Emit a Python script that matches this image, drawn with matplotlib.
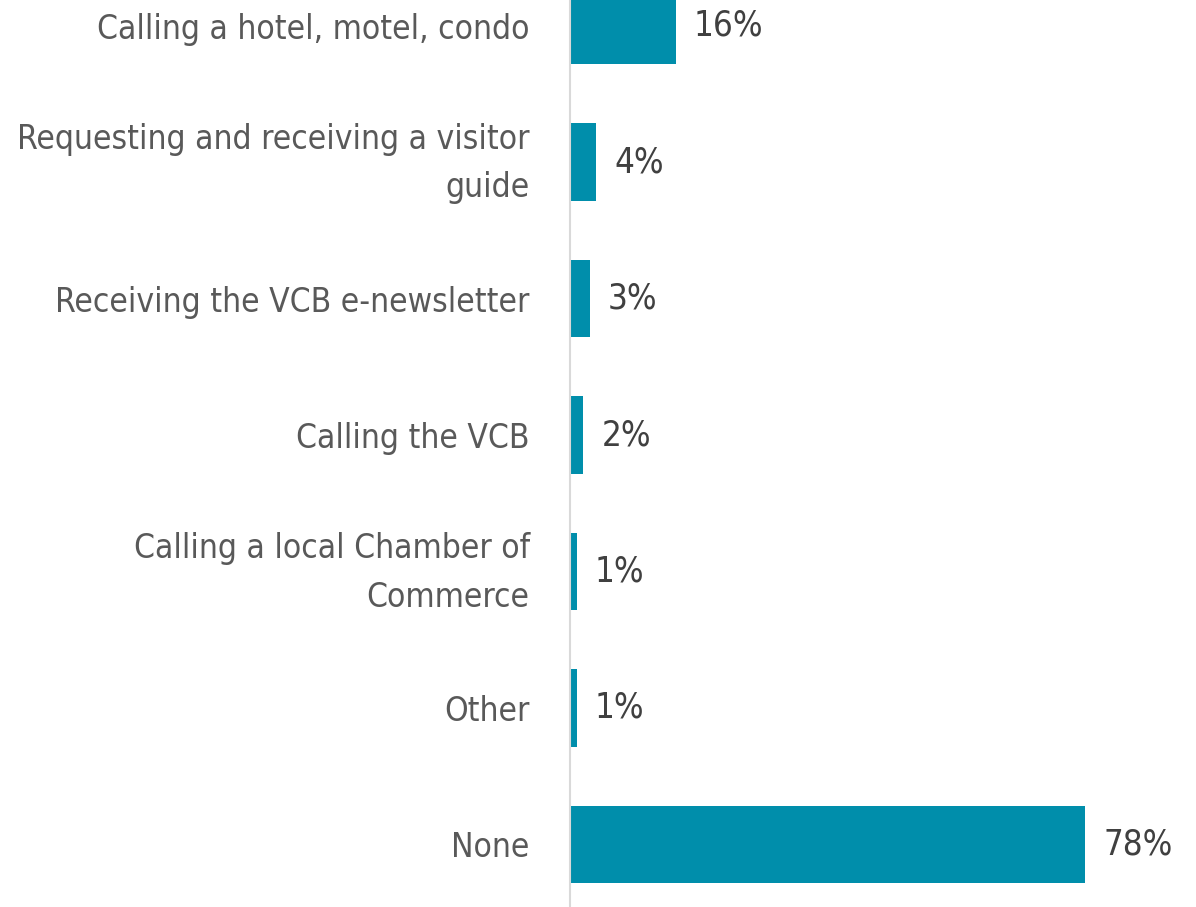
import matplotlib.pyplot as plt
import matplotlib.transforms as mtransforms
from matplotlib import font_manager

# Survey categories and shares (percent)
categories = [
    'Calling a hotel, motel, condo',
    'Requesting and receiving a visitor\nguide',
    'Receiving the VCB e-newsletter',
    'Calling the VCB',
    'Calling a local Chamber of\nCommerce',
    'Other',
    'None',
]
values = [16, 4, 3, 2, 1, 1, 78]
value_labels = ['16%', '4%', '3%', '2%', '1%', '1%', '78%']

# pick a narrow font if one is installed
names = {f.name for f in font_manager.fontManager.ttflist}
condensed = {f.name for f in font_manager.fontManager.ttflist
             if str(f.stretch) in ('condensed', 'semi-condensed', '75', '87.5')}
fsize = 24
if 'Liberation Sans Narrow' in names:
    plt.rcParams['font.family'] = ['Liberation Sans Narrow', 'DejaVu Sans']
    fsize = 29
elif 'DejaVu Sans' in condensed:
    plt.rcParams['font.family'] = ['DejaVu Sans']
    plt.rcParams['font.stretch'] = 'condensed'
else:
    plt.rcParams['font.family'] = ['Liberation Sans', 'DejaVu Sans']
    fsize = 22

fig = plt.figure(figsize=(11.96, 9.07), dpi=100)
ax = fig.add_axes([570 / 1196, 0, 1 - 570 / 1196, 1])

y = list(range(len(categories)))
bars = ax.barh(y, values, height=0.565, color='#008EAB')

for bar, lab in zip(bars, value_labels):
    ax.annotate(lab, (bar.get_width(), bar.get_y() + bar.get_height() / 2),
                xytext=(13, 0), textcoords='offset points',
                ha='left', va='center', fontsize=fsize + 1, color='#404040')

ax.set_yticks(y)
ax.set_yticklabels(categories, fontsize=fsize, color='#595959', linespacing=1.6)
ax.tick_params(axis='y', length=0, pad=29)
ax.set_xticks([])

# two-line labels sit a bit low, nudge them up
shift = mtransforms.ScaledTranslation(0, 10 / 100, fig.dpi_scale_trans)
for t in ax.get_yticklabels():
    if '\n' in t.get_text():
        t.set_transform(t.get_transform() + shift)

ax.set_xlim(0, 94.8)
ax.set_ylim(6.458, -0.187)

for side in ['top', 'right', 'bottom']:
    ax.spines[side].set_visible(False)
ax.spines['left'].set_color('#D9D9D9')
ax.spines['left'].set_linewidth(1.5)

fig.savefig('out.png', dpi=100)
